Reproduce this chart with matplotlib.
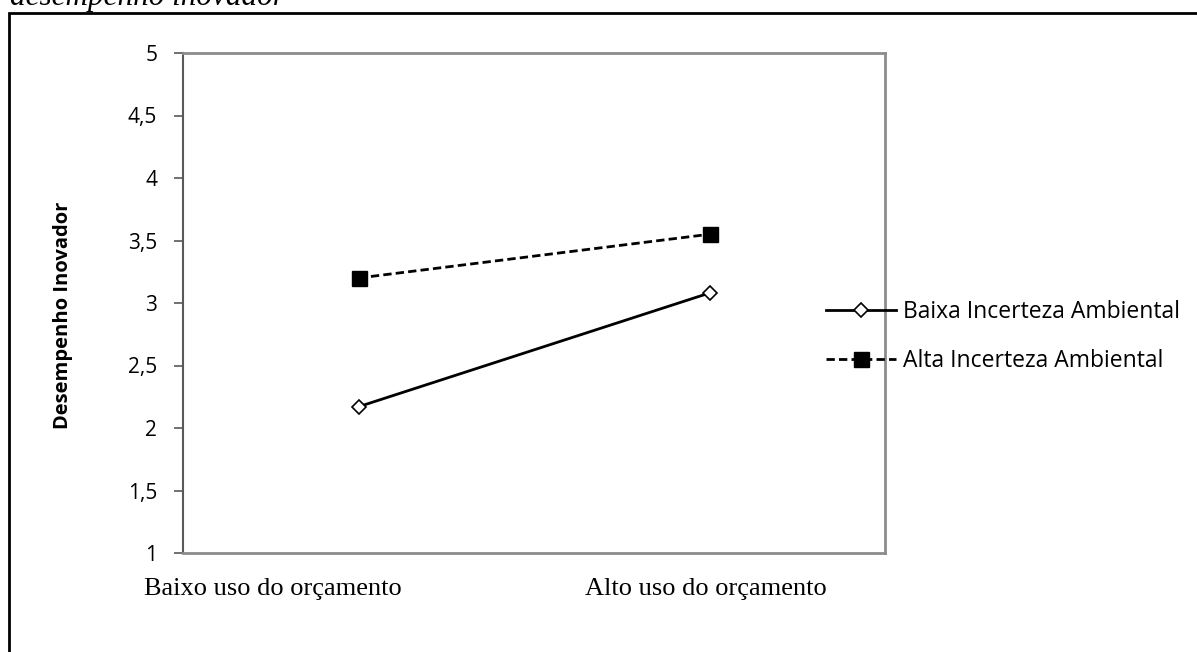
import matplotlib
matplotlib.use("Agg")
import matplotlib.pyplot as plt
from matplotlib.patches import Rectangle

# data
categorias = ["Baixo uso do orçamento", "Alto uso do orçamento"]
baixa_incerteza = [2.17, 3.08]
alta_incerteza = [3.20, 3.55]
yticks = [1, 1.5, 2, 2.5, 3, 3.5, 4, 4.5, 5]
ytick_labels = ["1", "1,5", "2", "2,5", "3", "3,5", "4", "4,5", "5"]

W, H = 1197, 652
fig = plt.figure(figsize=(W / 100, H / 100), dpi=100)
ax = fig.add_axes([183/W, 1 - 553/H, 702/W, 500/H])

x = range(len(categorias))
ax.plot(x, baixa_incerteza, color="black", lw=2, marker="D", ms=7.5,
        mfc="white", mec="black", mew=1.2, label="Baixa Incerteza Ambiental")
ax.plot(x, alta_incerteza, color="black", lw=2, ls=(0, (3, 1.5)), marker="s", ms=10.8,
        mfc="black", mec="black", label="Alta Incerteza Ambiental")

ax.set_xlim(-0.5, 1.5)
ax.set_ylim(1, 5)
ax.set_yticks(yticks)
ax.set_yticklabels(ytick_labels, fontfamily="Open Sans", fontsize=15)
ax.set_xticks([])
ax.tick_params(axis="y", length=6.5, width=1.2, color="#595959", pad=12)

for s in ["top", "right", "bottom"]:
    ax.spines[s].set_color("#8c8c8c")
    ax.spines[s].set_linewidth(2)
ax.spines["left"].set_color("#595959")
ax.spines["left"].set_linewidth(1.5)

fig.text(63/W, 1 - 315/H, "Desempenho Inovador", fontfamily="Open Sans", fontweight="bold",
         fontsize=14.5, rotation=90, ha="center", va="center")

# category labels in serif text below the plot
ax.text(0.1275, -0.071, categorias[0], transform=ax.transAxes, ha="center", va="center",
        fontfamily="Liberation Serif", fontsize=19)
ax.text(0.745, -0.071, categorias[1], transform=ax.transAxes, ha="center", va="center",
        fontfamily="Liberation Serif", fontsize=19)

leg = ax.legend(loc="center left", bbox_to_anchor=(0.916, 0.433), frameon=False,
                borderpad=0, borderaxespad=0, handlelength=3.05, handletextpad=0.3,
                labelspacing=1.10, prop={"family": "Open Sans", "size": 16.5})
leg.set_clip_on(False)

# outer frame
fig.patches.append(Rectangle((9/W, -0.2), 1.2, 1.2 - 13/H, transform=fig.transFigure,
                             fill=False, lw=2, ec="black"))

fig.text(10/W, 1 - 5/H, "desempenho inovador", fontfamily="Liberation Serif",
         style="italic", fontsize=22.4, va="baseline", ha="left")

fig.savefig("out.png", dpi=100)
